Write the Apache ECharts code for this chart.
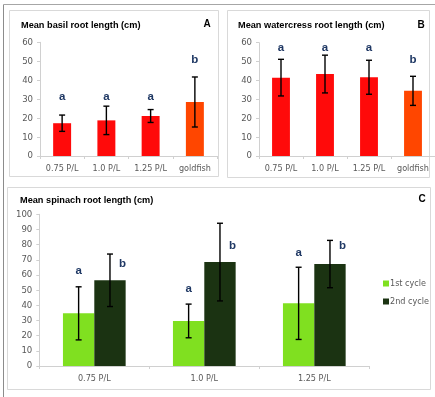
<!DOCTYPE html>
<html>
<head>
<meta charset="utf-8">
<script src="https://cdn.jsdelivr.net/npm/echarts@6/dist/echarts.min.js"></script>
<style>
  html, body { margin: 0; padding: 0; background: #ffffff; }
  #chart { width: 435px; height: 397px; }
</style>
</head>
<body>
<div id="chart"></div>
<script>
// Root length results per treatment (means, standard deviations, significance letters)
const treatments = ['0.75 P/L', '1.0 P/L', '1.25 P/L', 'goldfish'];

const basilMean = [17.3, 18.8, 21.1, 28.5];
const basilErr = [4.3, 7.5, 3.4, 13.2];
const basilLetters = ['a', 'a', 'a', 'b'];
const basilLetterY = [31, 31, 31, 51];

const watercressMean = [41.5, 43.4, 41.7, 34.5];
const watercressErr = [9.7, 10.0, 9.0, 7.7];
const watercressLetters = ['a', 'a', 'a', 'b'];
const watercressLetterY = [57.5, 57.5, 57.5, 51];

const spinachCats = ['0.75 P/L', '1.0 P/L', '1.25 P/L'];
const cycleNames = ['1st cycle', '2nd cycle'];
const spinach1Mean = [34.7, 29.7, 41.3];
const spinach1Err = [17.5, 11.1, 23.8];
const spinach1Letters = ['a', 'a', 'a'];
const spinach1LetterY = [62.8, 50.8, 74.7];
const spinach2Mean = [56.5, 68.5, 67.2];
const spinach2Err = [17.3, 25.6, 15.6];
const spinach2Letters = ['b', 'b', 'b'];
const spinach2LetterY = [67.2, 79.3, 79.3];

const smallAxisMax = 60;
const smallAxisStep = 10;
const spinachAxisMax = 100;
const spinachAxisStep = 10;

const FONT = "'Liberation Sans Narrow', 'DejaVu Sans Condensed', 'Liberation Sans', sans-serif";
const TITLE_FONT = "'Liberation Sans', Arial, sans-serif";
const RED = '#ff0a0a';
const ORANGE = '#ff4600';
const LIGHT_GREEN = '#80e020';
const DARK_GREEN = '#1b3312';
const LETTER_COLOR = '#1f3864';
const AXIS_GREY = '#d0d0d0';
const LABEL_GREY = '#595959';

const chart = echarts.init(document.getElementById('chart'), null, { renderer: 'canvas' });

function catAxis(gridIndex, data) {
  return {
    type: 'category', gridIndex, data,
    axisLine: { show: true, lineStyle: { color: AXIS_GREY, width: 1 } },
    axisTick: { show: true, length: 3, lineStyle: { color: AXIS_GREY } },
    axisLabel: { color: LABEL_GREY, fontSize: 9, fontFamily: FONT, margin: 8, interval: 0 },
    splitLine: { show: false }
  };
}
function valAxis(gridIndex, max, step) {
  return {
    type: 'value', gridIndex, min: 0, max, interval: step,
    axisLine: { show: true, lineStyle: { color: AXIS_GREY, width: 1 } },
    axisTick: { show: true, length: 3, lineStyle: { color: AXIS_GREY } },
    axisLabel: { color: LABEL_GREY, fontSize: 9.5, fontFamily: FONT, margin: 7 },
    splitLine: { show: false }
  };
}

// Vertical error bars with caps; shift moves them off the band centre (fraction of band)
function errorBars(axisIdx, means, errs, shift) {
  return {
    type: 'custom', xAxisIndex: axisIdx, yAxisIndex: axisIdx, silent: true, z: 5,
    data: means.map((m, i) => [i, m - errs[i], m + errs[i]]),
    encode: { x: 0, y: [1, 2] },
    renderItem(params, api) {
      const band = api.size([1, 0])[0];
      const lo = api.coord([api.value(0), api.value(1)]);
      const hi = api.coord([api.value(0), api.value(2)]);
      const x = lo[0] + shift * band;
      const hw = 3;
      const st = { stroke: '#000000', lineWidth: 1.4 };
      return {
        type: 'group',
        children: [
          { type: 'line', shape: { x1: x, y1: lo[1], x2: x, y2: hi[1] }, style: st },
          { type: 'line', shape: { x1: x - hw, y1: hi[1], x2: x + hw, y2: hi[1] }, style: st },
          { type: 'line', shape: { x1: x - hw, y1: lo[1], x2: x + hw, y2: lo[1] }, style: st }
        ]
      };
    }
  };
}

// Significance letters placed above the bars
function letterMarks(axisIdx, letters, ys, shift, px) {
  return {
    type: 'custom', xAxisIndex: axisIdx, yAxisIndex: axisIdx, silent: true, z: 6,
    data: ys.map((y, i) => [i, y, letters[i]]),
    encode: { x: 0, y: 1 },
    renderItem(params, api) {
      const band = api.size([1, 0])[0];
      const p = api.coord([api.value(0), api.value(1)]);
      return {
        type: 'text',
        x: p[0] + shift * band + px,
        y: p[1],
        style: {
          text: letters[params.dataIndex],
          font: "bold 11.5px 'Liberation Sans', sans-serif",
          fill: LETTER_COLOR,
          align: 'center',
          verticalAlign: 'middle'
        }
      };
    }
  };
}

const smallBarColor = treatments.map(t => t === 'goldfish' ? ORANGE : RED);
const barFrac = 0.285;

function panelText(x, y, text, size, weight, align) {
  return {
    type: 'text', x, y, silent: true,
    style: {
      text, fill: '#000000', align: align || 'left', verticalAlign: 'middle',
      font: `${weight} ${size}px ${TITLE_FONT}`
    }
  };
}
function frame(x, y, w, h) {
  return {
    type: 'rect', silent: true, z: -1,
    shape: { x: x + 0.5, y: y + 0.5, width: w, height: h },
    style: { fill: 'none', stroke: '#d9d9d9', lineWidth: 1 }
  };
}

const option = {
  animation: false,
  backgroundColor: '#ffffff',
  grid: [
    { left: 40, top: 42.3, width: 177, height: 113.7 },
    { left: 259, top: 42.7, width: 177, height: 113.3 },
    { left: 39.3, top: 214.3, width: 330, height: 151.7 }
  ],
  xAxis: [catAxis(0, treatments), catAxis(1, treatments), catAxis(2, spinachCats)],
  yAxis: [
    valAxis(0, smallAxisMax, smallAxisStep),
    valAxis(1, smallAxisMax, smallAxisStep),
    valAxis(2, spinachAxisMax, spinachAxisStep)
  ],
  legend: {
    data: cycleNames,
    orient: 'vertical',
    left: 378, top: 274,
    itemWidth: 6, itemHeight: 6, itemGap: 9,
    icon: 'rect',
    textStyle: { color: LABEL_GREY, fontSize: 9, fontFamily: FONT, padding: [0, 0, 0, -4] }
  },
  graphic: [
    { type: 'line', silent: true, shape: { x1: 3.5, y1: 4.5, x2: 3.5, y2: 397 }, style: { stroke: '#8c8c8c', lineWidth: 1 } },
    { type: 'line', silent: true, shape: { x1: 3.5, y1: 4.5, x2: 435, y2: 4.5 }, style: { stroke: '#a6a6a6', lineWidth: 1 } },
    frame(9, 10, 209, 166),
    frame(227, 10, 202, 167),
    frame(7, 187, 423, 202),
    panelText(21, 25, 'Mean basil root length (cm)', 9.2, 'bold'),
    panelText(207, 24, 'A', 10, 'bold', 'center'),
    panelText(238, 25, 'Mean watercress root length (cm)', 9.2, 'bold'),
    panelText(421, 25, 'B', 10, 'bold', 'center'),
    panelText(20, 200, 'Mean spinach root length (cm)', 9.2, 'bold'),
    panelText(422, 199, 'C', 10, 'bold', 'center')
  ],
  series: [
    {
      type: 'bar', xAxisIndex: 0, yAxisIndex: 0, barWidth: '40.6%',
      data: basilMean.map((v, i) => ({ value: v, itemStyle: { color: smallBarColor[i] } }))
    },
    errorBars(0, basilMean, basilErr, 0),
    letterMarks(0, basilLetters, basilLetterY, 0, 0),
    {
      type: 'bar', xAxisIndex: 1, yAxisIndex: 1, barWidth: '40.6%',
      data: watercressMean.map((v, i) => ({ value: v, itemStyle: { color: smallBarColor[i] } }))
    },
    errorBars(1, watercressMean, watercressErr, 0),
    letterMarks(1, watercressLetters, watercressLetterY, 0, 0),
    {
      name: cycleNames[0], type: 'bar', xAxisIndex: 2, yAxisIndex: 2,
      barWidth: (barFrac * 100) + '%', barGap: '0%',
      itemStyle: { color: LIGHT_GREEN }, data: spinach1Mean
    },
    {
      name: cycleNames[1], type: 'bar', xAxisIndex: 2, yAxisIndex: 2,
      barWidth: (barFrac * 100) + '%', barGap: '0%',
      itemStyle: { color: DARK_GREEN }, data: spinach2Mean
    },
    errorBars(2, spinach1Mean, spinach1Err, -barFrac / 2),
    errorBars(2, spinach2Mean, spinach2Err, barFrac / 2),
    letterMarks(2, spinach1Letters, spinach1LetterY, -barFrac / 2, 0),
    letterMarks(2, spinach2Letters, spinach2LetterY, barFrac / 2, 12.5)
  ]
};

chart.setOption(option);
</script>
</body>
</html>
